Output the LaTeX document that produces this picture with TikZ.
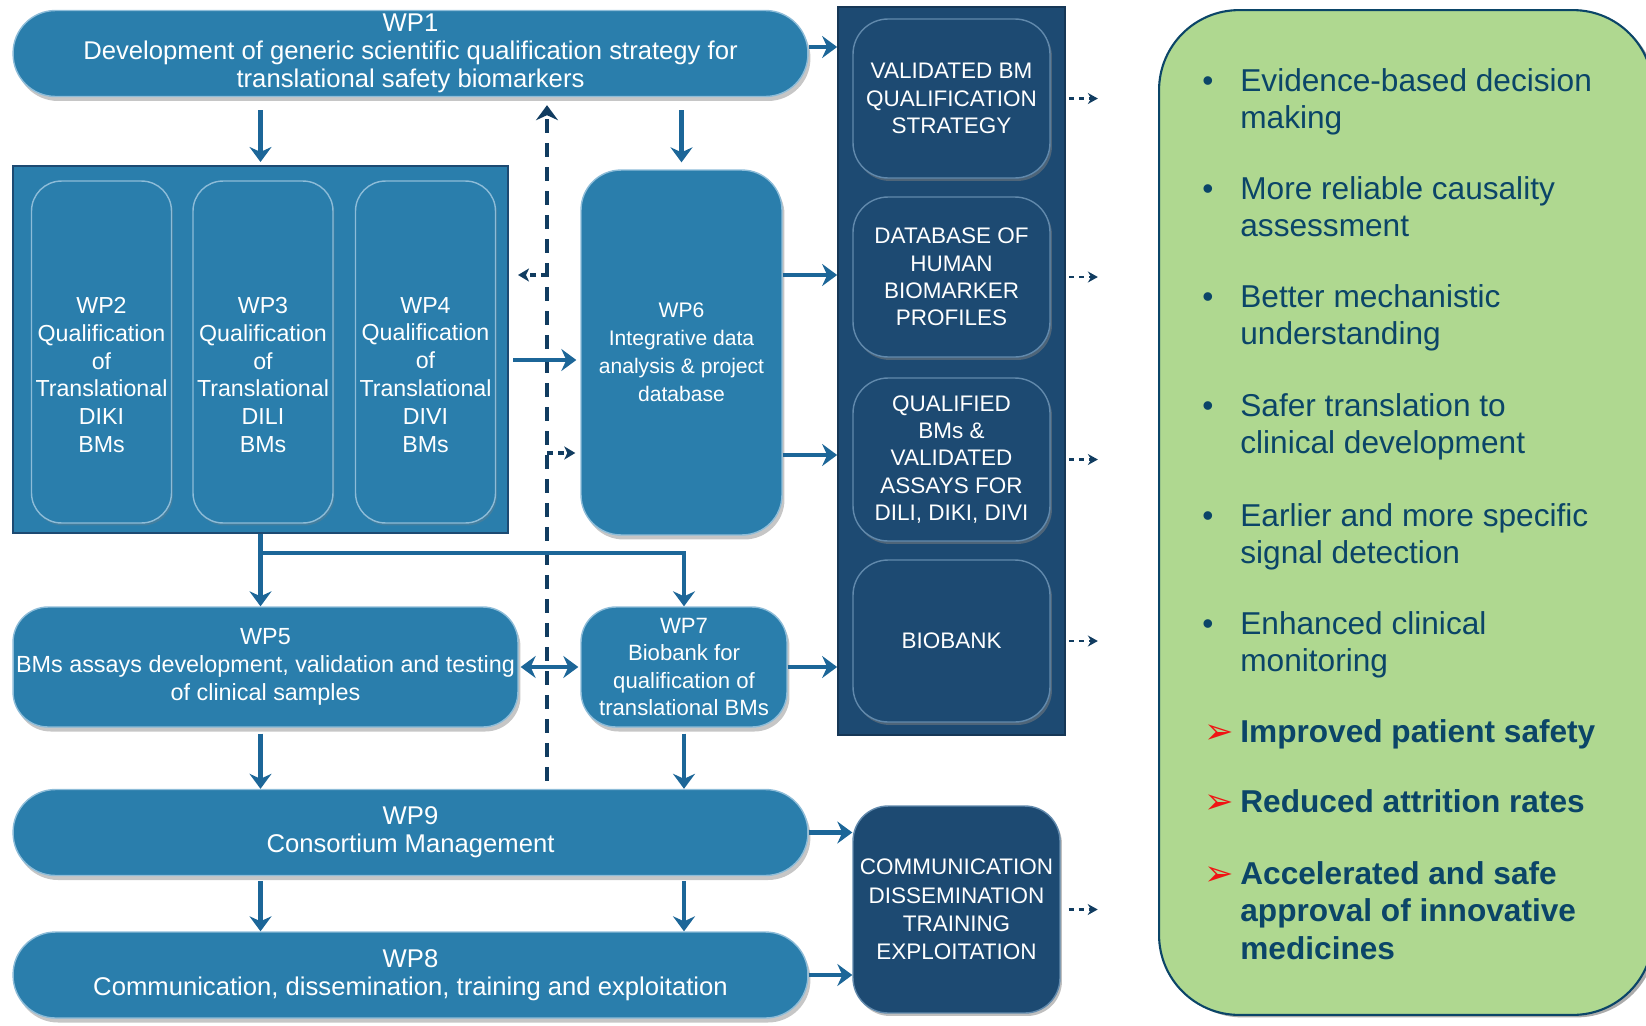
\documentclass[tikz,border=0pt]{standalone}
\usepackage{fontspec}
\setmainfont{Liberation Sans}
\newfontfamily\dingfont{DejaVu Sans}
\usetikzlibrary{arrows.meta,shadows}

\definecolor{wpblue}{HTML}{2A7EAC}
\definecolor{wprim}{HTML}{8DBCD8}
\definecolor{navy}{HTML}{1D4A72}
\definecolor{navyrim}{HTML}{6189AC}
\definecolor{flowblue}{HTML}{1C6698}
\definecolor{dashnavy}{HTML}{113C60}
\definecolor{gainbg}{HTML}{AFD890}
\definecolor{gaintext}{HTML}{0B4568}
\definecolor{tipred}{HTML}{F01414}

% one bullet line of the benefits panel: mark, then the text lines
\newcommand\gainitem[2]{\begin{tabular}[t]{@{}l@{}l@{}}\makebox[0.76cm][l]{#1} & #2\end{tabular}}
\newcommand\redtip{\hspace{1pt}\raisebox{-1pt}{\dingfont\fontsize{20}{20}\selectfont\color{tipred}➢}}

\begin{document}
\begin{tikzpicture}[x=0.02cm,y=-0.02cm,
  >={Stealth[length=0.3cm,width=0.44cm,inset=0.1cm]},
  wpfill/.style={fill=wpblue,draw=wprim,line width=0.8pt,text=white,align=center,inner sep=0pt},
  wp/.style={wpfill,drop shadow={shadow xshift=0.05cm,shadow yshift=-0.09cm,opacity=0.45}},
  pill/.style={wp,rounded corners=0.85cm,minimum width=15.9cm,minimum height=1.72cm,
    font=\fontsize{14.6}{16}\selectfont},
  qual/.style={wpfill,rounded corners=0.6cm,minimum width=2.8cm,minimum height=6.84cm,
    drop shadow={shadow xshift=0.03cm,shadow yshift=-0.05cm,opacity=0.3}},
  qualtext/.style={text=white,align=center,inner sep=0pt,font=\fontsize{13.2}{15.9}\selectfont},
  result/.style={fill=navy,draw=navyrim,line width=0.8pt,text=white,align=center,
    rounded corners=0.7cm,minimum width=3.94cm,inner sep=0pt,
    font=\fontsize{12.8}{15.6}\selectfont,
    drop shadow={shadow xshift=0.04cm,shadow yshift=-0.06cm,opacity=0.5}},
  flow/.style={draw=flowblue,line width=2.3pt,->},
  bus/.style={draw=dashnavy,line width=2.2pt,dash pattern=on 0.28cm off 0.2cm},
  dflow/.style={draw=dashnavy,line width=1.8pt,dash pattern=on 0.12cm off 0.1cm,
    -{Stealth[length=0.22cm,width=0.26cm,inset=0.06cm]}},
  oflow/.style={draw=dashnavy,line width=1.4pt,dash pattern=on 0.1cm off 0.1cm,
    -{Stealth[length=0.2cm,width=0.22cm]}},
  gain/.style={anchor=base west,inner sep=0pt,text=gaintext,font=\fontsize{18}{21.5}\selectfont}]
\useasboundingbox (0,0) rectangle (1646,1025);

% benefits panel
\node[fill=gainbg,draw=gaintext,line width=1.2pt,rounded corners=1.6cm,minimum width=9.88cm,
  minimum height=20.1cm,inner sep=0pt,
  drop shadow={shadow xshift=0.07cm,shadow yshift=-0.05cm,fill=black!55,opacity=0.6}] (panel) at (1406,512.5) {};
\node[gain] (g1) at (1202,91) {\gainitem{\textbullet}{Evidence-based decision\\ & making}};
\node[gain] (g2) at (1202,199) {\gainitem{\textbullet}{More reliable causality\\ & assessment}};
\node[gain] (g3) at (1202,307) {\gainitem{\textbullet}{Better mechanistic\\ & understanding}};
\node[gain] (g4) at (1202,416) {\gainitem{\textbullet}{Safer translation to\\ & clinical development}};
\node[gain] (g5) at (1202,526) {\gainitem{\textbullet}{Earlier and more specific\\ & signal detection}};
\node[gain] (g6) at (1202,634) {\gainitem{\textbullet}{Enhanced clinical\\ & monitoring}};
\node[gain,font=\fontsize{18}{21.5}\selectfont\bfseries] (g7) at (1202,742) {\gainitem{\redtip}{Improved patient safety}};
\node[gain,font=\fontsize{18}{21.5}\selectfont\bfseries] (g8) at (1202,812) {\gainitem{\redtip}{Reduced attrition rates}};
\node[gain,font=\fontsize{18}{21.5}\selectfont\bfseries] (g9) at (1202,884) {\gainitem{\redtip}{Accelerated and safe\\ & approval of innovative\\ & medicines}};

% deliverables column
\node[fill=navy,draw=navy!75!black,line width=1pt,minimum width=4.54cm,minimum height=14.56cm,
  inner sep=0pt] (col) at (951.5,371) {};
\node[result,minimum height=3.18cm] (vbm) at (951.5,98.5) {VALIDATED BM\\QUALIFICATION\\STRATEGY};
\node[result,minimum height=3.2cm] (dbp) at (951.5,277) {DATABASE OF\\HUMAN\\BIOMARKER\\PROFILES};
\node[result,minimum height=3.26cm] (qbm) at (951.5,459.5) {QUALIFIED\\BMs \&\\VALIDATED\\ASSAYS FOR\\DILI, DIKI, DIVI};
\node[result,minimum height=3.24cm] (bio) at (951.5,641) {BIOBANK};
\node[result,minimum width=4.14cm,minimum height=4.14cm,font=\fontsize{12.8}{16.2}\selectfont] (cdt) at (956.5,909.5) {COMMUNICATION\\DISSEMINATION\\TRAINING\\EXPLOITATION};

% work packages
\node[pill] (wp1) at (410.5,53.5) {WP1\\Development of generic scientific qualification strategy for\\translational safety biomarkers};
\node[wpfill,draw=navy,line width=1.2pt,minimum width=9.9cm,minimum height=7.34cm] (bms) at (260.5,349.5) {};
\node[qual] (wp2) at (101.5,352) {};
\node[qual] (wp3) at (263,352) {};
\node[qual] (wp4) at (425.5,352) {};
\node[qualtext] (wp2t) at (wp2.center |- 0,375) {WP2\\Qualification\\of\\Translational\\DIKI\\BMs};
\node[qualtext] (wp3t) at (wp3.center |- 0,375) {WP3\\Qualification\\of\\Translational\\DILI\\BMs};
\node[qualtext] (wp4t) at (wp4.center |- 0,375) {WP4\\Qualification\\of\\Translational\\DIVI\\BMs};
\node[wp,rounded corners=0.8cm,minimum width=4.02cm,minimum height=7.3cm,
  font=\fontsize{12}{16}\selectfont] (wp6) at (681.5,352.5) {WP6\\Integrative data\\analysis \& project\\database};
\node[wp,rounded corners=0.7cm,minimum width=10.1cm,minimum height=2.4cm,
  font=\fontsize{13.3}{15.9}\selectfont] (wp5) at (265.5,667) {WP5\\BMs assays development, validation and testing\\of clinical samples};
\node[wp,rounded corners=0.7cm,minimum width=4.12cm,minimum height=2.4cm,
  font=\fontsize{12.6}{15.7}\selectfont] (wp7) at (684,667) {WP7\\Biobank for\\qualification of\\translational BMs};
\node[pill] (wp9) at (410.5,832.5) {WP9\\Consortium Management};
\node[pill] (wp8) at (410.5,975) {WP8\\Communication, dissemination, training and exploitation};

% data flow
\coordinate (bus) at (547,0);
\coordinate (split) at (bms.south |- 0,553);
\draw[bus,->,shorten <=0.16cm,shorten >=0.16cm] (wp9.north -| bus) -- (wp1.south -| bus);
\draw[dflow,shorten >=0.18cm] (bus |- 0,275) -- (bms.east |- 0,275);
\draw[dflow,shorten >=0.1cm] (bus |- 0,453) -- (wp6.west |- 0,453);

\draw[flow] (wp1.east |- 0,47) -- (col.west |- 0,47);
\draw[flow,shorten <=0.26cm,shorten >=0.06cm] (wp1.south -| bms.north) -- (bms.north);
\draw[flow,shorten <=0.26cm,shorten >=0.14cm] (wp1.south -| wp6.north) -- (wp6.north);
\draw[flow,shorten <=0.08cm,shorten >=0.08cm] (bms.east |- 0,360) -- (wp6.west |- 0,360);
\draw[flow] (wp6.east |- 0,275) -- (col.west |- 0,275);
\draw[flow] (wp6.east |- 0,455) -- (col.west |- 0,455);
\draw[flow] (bms.south) -- (bms.south |- wp5.north);
\draw[flow] (split) -| (wp7.north);
\draw[flow,<->,shorten <=0.04cm,shorten >=0.04cm] (wp5.east) -- (wp7.west);
\draw[flow] (wp7.east) -- (col.west |- wp7.east);
\draw[flow,shorten <=0.12cm] (bms.south |- wp5.south) -- (bms.south |- wp9.north);
\draw[flow,shorten <=0.12cm] (wp7.south) -- (wp7.south |- wp9.north);
\draw[flow,shorten <=0.1cm] (bms.south |- wp9.south) -- (bms.south |- wp8.north);
\draw[flow,shorten <=0.1cm] (wp7.south |- wp9.south) -- (wp7.south |- wp8.north);
\draw[flow] (wp9.east) -- (cdt.west |- wp9.east);
\draw[flow] (wp8.east) -- (cdt.west |- wp8.east);

% outputs
\foreach \r in {vbm,dbp,qbm,bio}
  \draw[oflow,shorten <=0.06cm] (col.east |- \r.east) -- ++(32,0);
\draw[oflow,shorten <=0.16cm] (cdt.east) -- ++(37,0);
\end{tikzpicture}
\end{document}
